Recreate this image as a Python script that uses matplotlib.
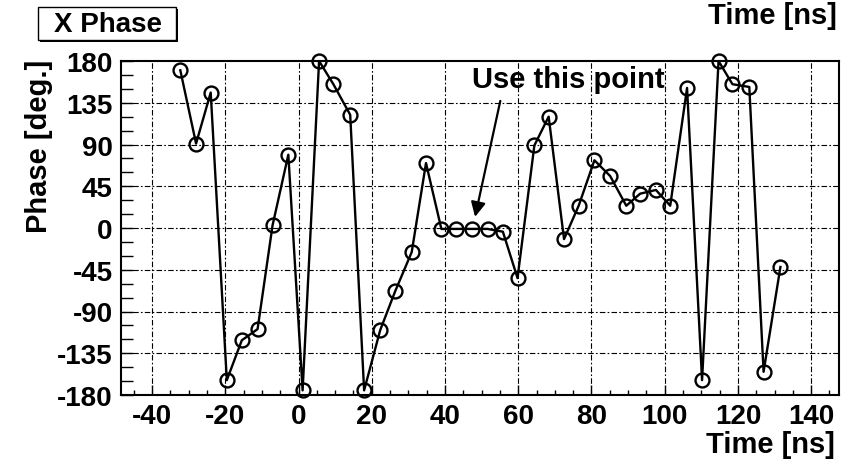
import matplotlib
matplotlib.use("Agg")
import matplotlib.pyplot as plt
from matplotlib.patches import Rectangle
from matplotlib.ticker import MultipleLocator

# Sampled phase of the X channel versus time
time_ns = [-32.3, -28.0, -24.0, -19.6, -15.5, -11.2, -7.1, -2.8, 1.1, 5.6,
           9.5, 14.1, 17.9, 22.3, 26.4, 30.9, 34.8, 39.0, 43.1, 47.3,
           51.6, 55.8, 59.8, 64.4, 68.3, 72.5, 76.5, 80.8, 85.1, 89.5,
           93.3, 97.6, 101.5, 106.1, 110.2, 114.7, 118.5, 123.1, 127.0, 131.6]
phase_deg = [170, 91, 146, -164, -121, -109, 3, 79, -175, 180,
             155, 122, -175, -110, -68, -26, 70, -1, -1, -1,
             -1, -4, -54, 89, 120, -12, 24, 73, 56, 24,
             37, 41, 24, 151, -164, 180, 155, 152, -155, -42]

x_major = list(range(-40, 141, 20))
y_major = list(range(-180, 181, 45))

# Chosen sample and where its label sits
pick_time, pick_phase = 48.2, 12
label_time, label_phase = 55.1, 137

W, H = 845, 460
plt.rcParams['font.family'] = ['Liberation Sans', 'DejaVu Sans']
plt.rcParams['axes.unicode_minus'] = False
fig = plt.figure(figsize=(W / 100, H / 100), dpi=100)
FS = 20

ax = fig.add_axes([121 / W, 1 - 396 / H, (839 - 121) / W, (396 - 62) / H])
ax.set_xlim(-48.5, 147.6)
ax.set_ylim(-180, 180)

grid_style = dict(color='black', lw=0.8, ls=(0, (5, 2, 1.5, 2)), zorder=1)
for xv in x_major:
    ax.axvline(xv, **grid_style)
for yv in y_major[1:-1]:
    ax.axhline(yv, **grid_style)

ax.plot(time_ns, phase_deg, color='black', lw=1.7, marker='o', ms=10,
        mfc='none', mec='black', mew=1.7, zorder=3, clip_on=False)

ax.set_xticks(x_major)
ax.set_yticks(y_major)
ax.xaxis.set_minor_locator(MultipleLocator(5))
ax.yaxis.set_minor_locator(MultipleLocator(15))
ax.tick_params(axis='both', which='both', direction='in', top=False, right=False,
               labelsize=FS, width=1.0, color='black')
ax.tick_params(axis='x', which='major', length=7, pad=6)
ax.tick_params(axis='x', which='minor', length=3.6)
ax.tick_params(axis='y', which='major', length=8.6, pad=6)
ax.tick_params(axis='y', which='minor', length=8.6)
for lab in ax.get_xticklabels() + ax.get_yticklabels():
    lab.set_fontweight('bold')
for sp in ax.spines.values():
    sp.set_linewidth(1.5)

ax.annotate('', xy=(pick_time, pick_phase), xytext=(label_time, label_phase),
            arrowprops=dict(arrowstyle='-|>', color='black', lw=1.6,
                            mutation_scale=22, shrinkA=0, shrinkB=0), zorder=4)
ax.text(73.6, 152, 'Use this point', ha='center', va='baseline',
        fontsize=FS + 1, fontweight='bold', zorder=4)

# Title box with drop shadow
fig.patches.append(Rectangle((40 / W, 1 - 43 / H), (178 - 40) / W, (43 - 10) / H,
                             transform=fig.transFigure, fc='black', ec='none'))
fig.patches.append(Rectangle((38 / W, 1 - 41 / H), (176 - 38) / W, (41 - 8) / H,
                             transform=fig.transFigure, fc='white', ec='black', lw=1.0))
fig.text(108 / W, 1 - 25 / H, 'X Phase', ha='center', va='center',
         fontsize=FS, fontweight='bold')

fig.text(39 / W, 1 - 60 / H, 'Phase [deg.]', rotation=90, ha='center', va='top',
         fontsize=FS + 1, fontweight='bold')
fig.text(835 / W, 1 - 453 / H, 'Time [ns]', ha='right', va='baseline',
         fontsize=FS + 1, fontweight='bold')
fig.text(837 / W, 1 - 24 / H, 'Time [ns]', ha='right', va='baseline',
         fontsize=FS + 1, fontweight='bold')

fig.savefig('out.png', dpi=100)
